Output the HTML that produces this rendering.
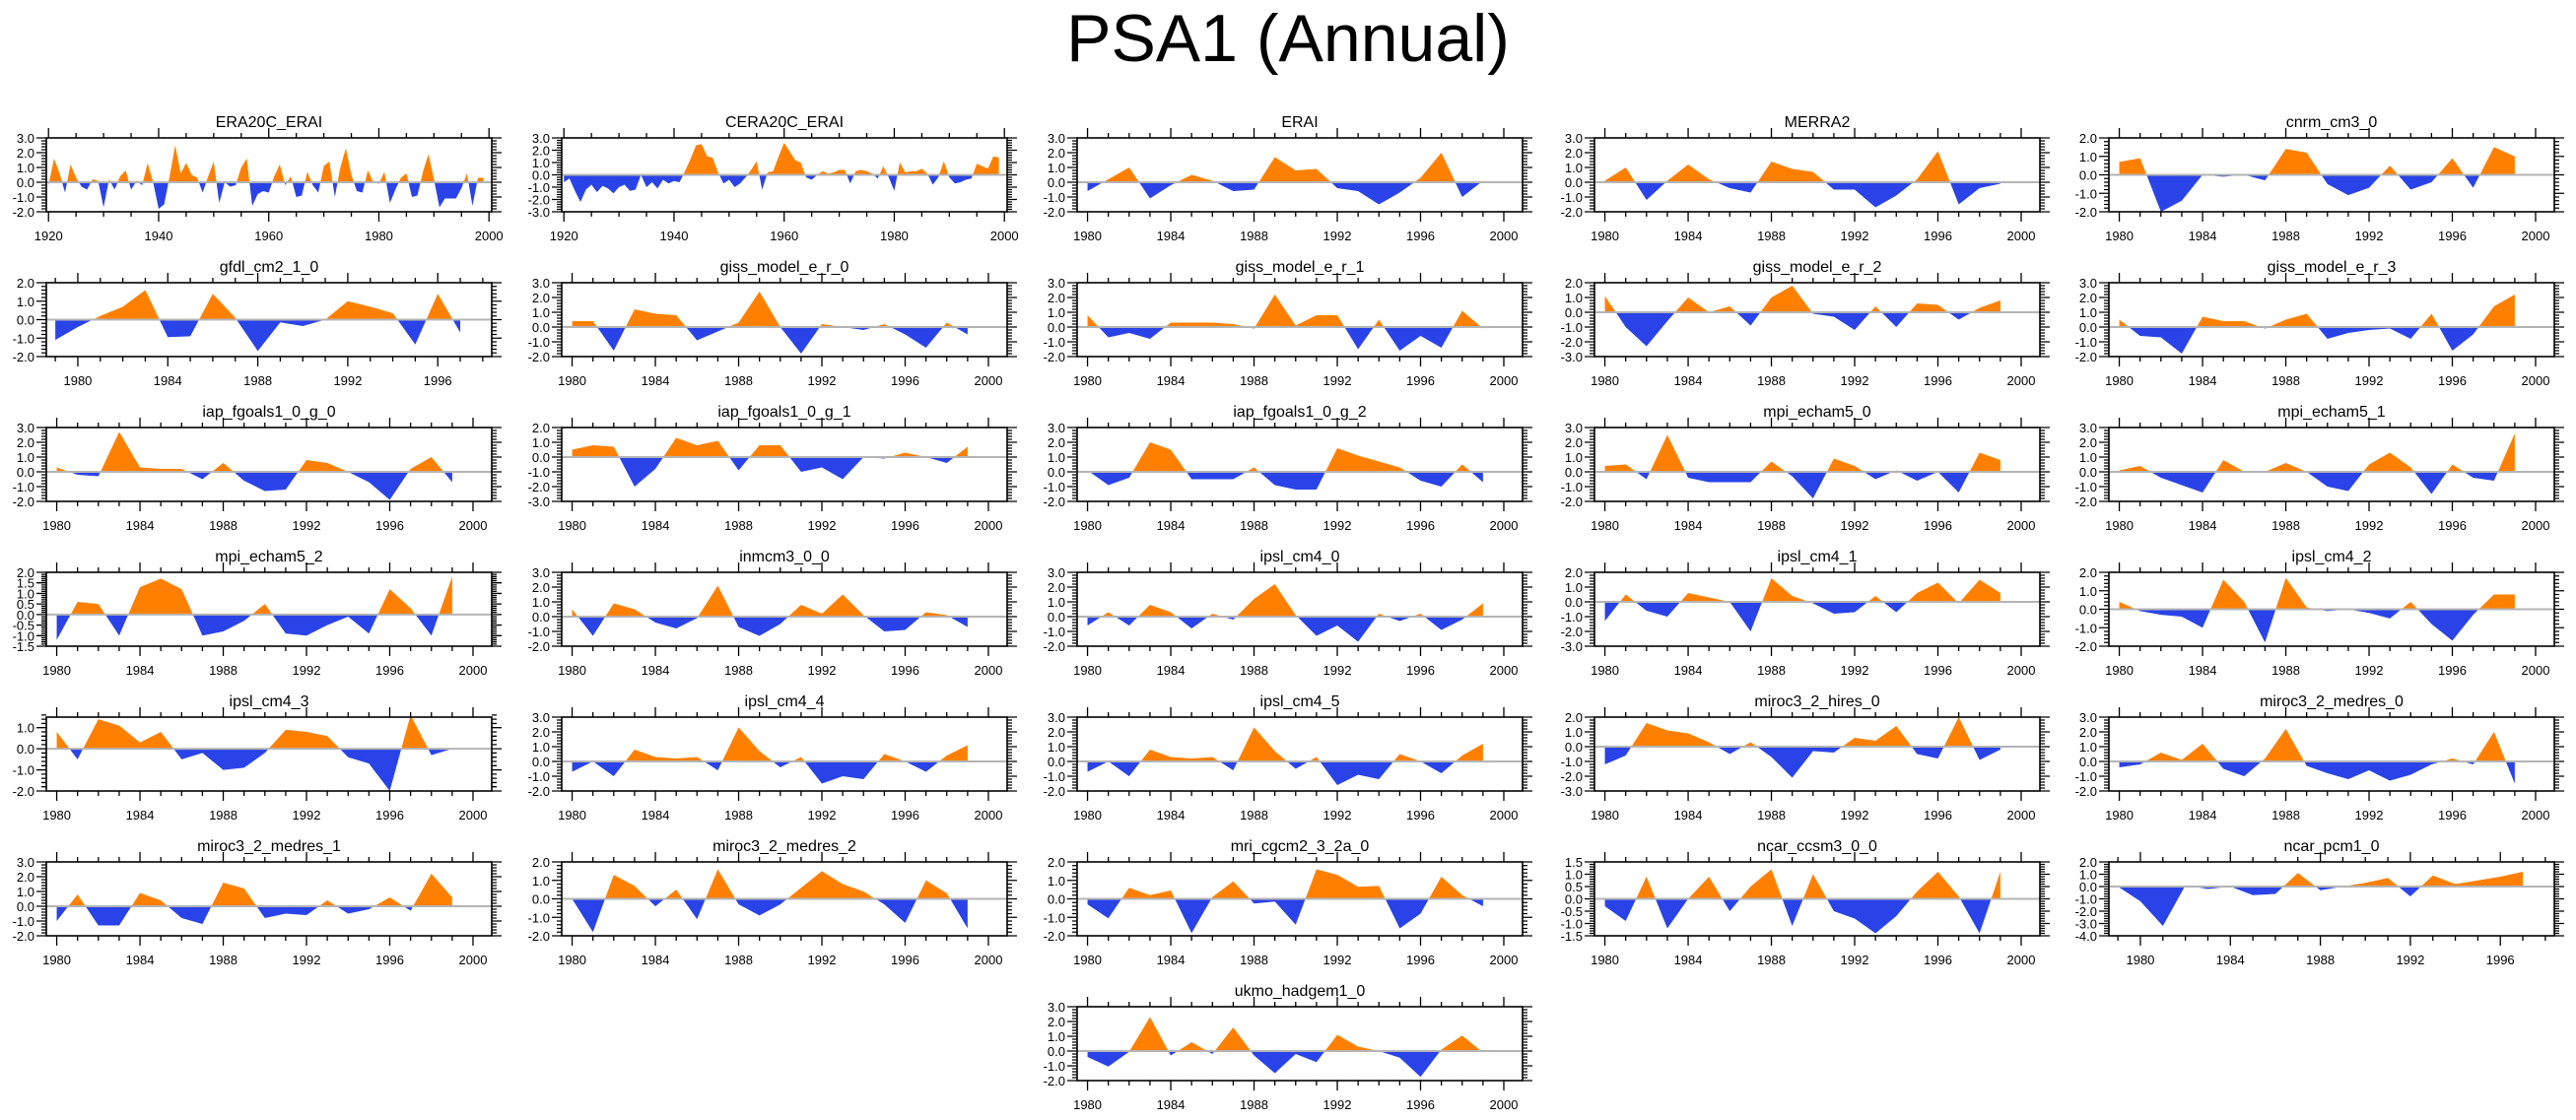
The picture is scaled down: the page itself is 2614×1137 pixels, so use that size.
<!DOCTYPE html>
<html><head><meta charset="utf-8"><title>PSA1 (Annual)</title>
<style>
html,body{margin:0;padding:0;background:#fff;}
body{width:2614px;height:1132px;overflow:hidden;font-family:"Liberation Sans",sans-serif;}
svg text{font-family:"Liberation Sans",sans-serif;}
</style></head>
<body>
<svg id="chart" width="2614" height="1132" viewBox="0 0 2614 1132" xmlns="http://www.w3.org/2000/svg">
<text x="1307" y="62" text-anchor="middle" font-size="68" fill="#000">PSA1 (Annual)</text>
</svg>
<script>
const panelNames = ["ERA20C_ERAI","CERA20C_ERAI","ERAI","MERRA2","cnrm_cm3_0",
"gfdl_cm2_1_0","giss_model_e_r_0","giss_model_e_r_1","giss_model_e_r_2","giss_model_e_r_3",
"iap_fgoals1_0_g_0","iap_fgoals1_0_g_1","iap_fgoals1_0_g_2","mpi_echam5_0","mpi_echam5_1",
"mpi_echam5_2","inmcm3_0_0","ipsl_cm4_0","ipsl_cm4_1","ipsl_cm4_2",
"ipsl_cm4_3","ipsl_cm4_4","ipsl_cm4_5","miroc3_2_hires_0","miroc3_2_medres_0",
"miroc3_2_medres_1","miroc3_2_medres_2","mri_cgcm2_3_2a_0","ncar_ccsm3_0_0","ncar_pcm1_0",
"ukmo_hadgem1_0"];
const startYears = [1920,1920,1980,1980,1980, 1979,1980,1980,1980,1980, 1980,1980,1980,1980,1980,
1980,1980,1980,1980,1980, 1980,1980,1980,1980,1980, 1980,1980,1980,1980,1979, 1980];
const yMin = [-2,-3,-2,-2,-2, -2,-2,-2,-3,-2, -2,-3,-2,-2,-2, -1.5,-2,-2,-3,-2, -2,-2,-2,-3,-2, -2,-2,-2,-1.5,-4, -2];
const yMax = [3,3,3,3,2, 2,3,3,2,3, 3,2,3,3,3, 2,3,3,2,2, 1.5,3,3,2,3, 3,2,2,1.5,2, 3];
const yStep = [1,1,1,1,1, 1,1,1,1,1, 1,1,1,1,1, 0.5,1,1,1,1, 1,1,1,1,1, 1,1,1,0.5,1, 1];
const s0 = [-0.2,1.6,0.6,-0.7,1.2,0.3,-0.3,-0.5,0.2,0.1,-1.7,0.2,-0.5,0.4,0.8,-0.5,0.1,-0.2,1.3,0.0,
-1.8,-1.5,0.4,2.5,0.6,1.3,0.5,0.3,-0.7,0.4,1.4,-1.4,0.0,-0.3,-0.2,1.0,1.6,-1.6,-0.8,-0.6,
-0.7,0.4,1.2,-0.2,0.4,-1.0,-0.9,0.7,-0.2,-0.7,1.1,1.4,-1.0,1.0,2.3,0.5,-0.6,-0.7,0.8,0.0,
-0.1,0.7,-1.4,-0.5,0.3,0.6,-1.0,-0.9,0.7,1.9,0.2,-1.7,-1.1,-1.1,-1.1,-0.4,0.6,-1.6,0.3,0.3];
const s1 = [-0.6,-0.3,-1.3,-2.2,-1.2,-0.8,-1.4,-0.9,-1.1,-1.5,-1.0,-0.8,-1.3,-1.2,0.0,-1.0,-0.6,-1.1,-0.4,-0.7,
-0.5,-0.6,0.3,1.3,2.4,2.5,1.5,1.4,0.2,-0.7,-0.4,-1.0,-0.7,-0.2,0.4,1.1,-1.2,0.2,0.3,1.5,
2.6,1.9,1.2,1.0,-0.2,-0.4,0.0,0.3,0.1,0.2,0.4,0.4,-0.7,0.3,0.4,0.3,0.1,-0.3,0.7,-0.2,
-1.3,1.0,0.2,0.3,0.3,0.5,0.1,-0.8,-0.2,1.1,-0.2,-0.7,-0.6,-0.4,-0.3,0.9,0.7,0.5,1.5,1.4];
const s2 = [-0.6,0.2,1.0,-1.1,-0.2,0.5,0.1,-0.6,-0.5,1.7,0.8,0.9,-0.4,-0.6,-1.5,-0.7,0.3,2.0,-1.0,0.1];
const s3 = [0.1,1.0,-1.2,0.1,1.2,0.2,-0.4,-0.7,1.4,0.9,0.7,-0.5,-0.5,-1.7,-0.9,0.2,2.1,-1.5,-0.4,-0.1];
const s4 = [0.7,0.9,-2.0,-1.4,0.0,-0.1,0.0,-0.3,1.4,1.2,-0.5,-1.1,-0.7,0.5,-0.8,-0.4,0.9,-0.7,1.5,1.0];
const s5 = [-1.1,-0.4,0.2,0.7,1.6,-0.95,-0.9,1.4,0.1,-1.7,-0.15,-0.35,0.0,1.0,0.7,0.35,-1.35,1.4,-0.7];
const s6 = [0.4,0.4,-1.6,1.2,0.9,0.8,-0.9,-0.3,0.3,2.4,0.0,-1.8,0.2,0.0,-0.2,0.2,-0.5,-1.4,0.3,-0.5];
const s7 = [0.8,-0.7,-0.4,-0.8,0.3,0.3,0.3,0.2,-0.1,2.2,0.1,0.8,0.8,-1.5,0.5,-1.6,-0.6,-1.4,1.1,-0.1];
const s8 = [1.1,-1.0,-2.3,-0.6,1.0,0.0,0.4,-0.9,1.0,1.8,-0.1,-0.3,-1.2,0.4,-1.0,0.6,0.5,-0.5,0.3,0.8];
const s9 = [0.5,-0.6,-0.7,-1.8,0.7,0.4,0.4,-0.1,0.5,0.9,-0.8,-0.4,-0.2,-0.1,-0.8,0.9,-1.6,-0.5,1.4,2.2];
const s10 = [0.3,-0.2,-0.3,2.7,0.3,0.2,0.2,-0.5,0.6,-0.6,-1.3,-1.2,0.8,0.6,0.0,-0.7,-1.9,0.2,1.0,-0.7];
const s11 = [0.5,0.8,0.7,-2.0,-0.8,1.3,0.8,1.1,-0.9,0.8,0.8,-1.0,-0.7,-1.5,0.0,-0.1,0.3,0.0,-0.4,0.7];
const s12 = [0.1,-0.9,-0.4,2.0,1.5,-0.5,-0.5,-0.5,0.3,-0.9,-1.2,-1.2,1.6,1.1,0.7,0.3,-0.6,-1.0,0.5,-0.7];
const s13 = [0.4,0.5,-0.5,2.5,-0.4,-0.7,-0.7,-0.7,0.7,-0.3,-1.8,0.9,0.4,-0.5,0.1,-0.6,0.0,-1.4,1.3,0.8];
const s14 = [0.1,0.4,-0.4,-0.9,-1.4,0.8,0.0,0.0,0.6,0.0,-1.0,-1.3,0.5,1.3,0.3,-1.5,0.5,-0.4,-0.6,2.6];
const s15 = [-1.2,0.6,0.5,-1.0,1.3,1.7,1.2,-1.0,-0.8,-0.3,0.5,-0.9,-1.0,-0.5,-0.1,-0.9,1.2,0.3,-1.0,1.8];
const s16 = [0.5,-1.3,0.9,0.5,-0.4,-0.8,-0.1,2.1,-0.7,-1.3,-0.5,0.8,0.2,1.5,0.1,-1.0,-0.9,0.3,0.1,-0.7];
const s17 = [-0.6,0.3,-0.6,0.8,0.3,-0.8,0.2,-0.2,1.2,2.2,0.1,-1.3,-0.6,-1.7,0.2,-0.3,0.2,-0.9,-0.2,0.9];
const s18 = [-1.3,0.5,-0.6,-1.0,0.6,0.3,0.0,-2.0,1.6,0.4,-0.1,-0.8,-0.7,0.4,-0.7,0.6,1.3,-0.1,1.5,0.6];
const s19 = [0.4,-0.1,-0.3,-0.4,-1.0,1.6,0.4,-1.8,1.7,0.1,-0.1,0.0,-0.2,-0.5,0.4,-0.8,-1.7,-0.3,0.8,0.8];
const s20 = [0.8,-0.5,1.4,1.1,0.3,0.8,-0.5,-0.2,-1.0,-0.9,-0.2,0.9,0.8,0.6,-0.4,-0.7,-2.0,1.6,-0.3,0.0];
const s21 = [-0.7,0.0,-1.0,0.8,0.3,0.2,0.3,-0.6,2.3,0.7,-0.4,0.3,-1.5,-1.0,-1.2,0.5,0.0,-0.7,0.4,1.1];
const s22 = [-0.7,0.0,-1.0,0.8,0.3,0.2,0.3,-0.6,2.3,0.7,-0.5,0.3,-1.6,-0.9,-1.2,0.5,0.0,-0.8,0.4,1.2];
const s23 = [-1.2,-0.6,1.6,1.1,0.9,0.3,-0.5,0.3,-0.7,-2.1,-0.3,-0.4,0.6,0.4,1.4,-0.5,-0.8,2.0,-0.9,-0.2];
const s24 = [-0.4,-0.2,0.6,0.1,1.2,-0.5,-1.0,0.2,2.2,-0.3,-0.8,-1.2,-0.6,-1.3,-0.9,-0.2,0.2,-0.2,2.0,-1.5];
const s25 = [-1.0,0.8,-1.3,-1.3,0.9,0.4,-0.8,-1.2,1.6,1.2,-0.8,-0.5,-0.6,0.4,-0.5,-0.2,0.6,-0.3,2.2,0.6];
const s26 = [0.0,-1.8,1.3,0.7,-0.4,0.5,-1.1,1.6,-0.3,-0.9,-0.3,0.6,1.5,0.8,0.4,-0.3,-1.3,1.0,0.3,-1.6];
const s27 = [-0.3,-1.05,0.6,0.2,0.45,-1.85,0.1,0.95,-0.25,-0.15,-1.4,1.6,1.3,0.65,0.7,-1.6,-0.8,1.2,0.2,-0.4];
const s28 = [-0.3,-0.9,0.9,-1.2,0.0,0.9,-0.5,0.5,1.2,-1.1,1.0,-0.5,-0.8,-1.4,-0.7,0.3,1.1,0.1,-1.4,1.1];
const s29 = [0.0,-1.2,-3.2,0.1,-0.2,0.0,-0.7,-0.6,1.1,-0.3,0.0,0.3,0.7,-0.8,0.9,0.2,0.5,0.8,1.2];
const s30 = [-0.4,-1.05,-0.05,2.3,-0.3,0.6,-0.2,1.6,-0.3,-1.5,-0.2,-0.75,1.1,0.3,0.0,-0.45,-1.75,0.1,1.05,-0.1];
const seriesValues = [s0,s1,s2,s3,s4,s5,s6,s7,s8,s9,s10,s11,s12,s13,s14,s15,s16,s17,s18,s19,s20,s21,s22,s23,s24,s25,s26,s27,s28,s29,s30];

(function(){
  const NS = "http://www.w3.org/2000/svg";
  const svg = document.getElementById("chart");
  const colLeft = [47,570,1093,1618,2140];
  const W = 452, H = 75, TOP0 = 140, PITCH = 147;
  function mk(tag, attrs, parent){
    const e = document.createElementNS(NS, tag);
    for (const k in attrs) e.setAttribute(k, attrs[k]);
    (parent||svg).appendChild(e);
    return e;
  }
  function fmt(v){ return (Math.abs(v)<1e-9?0:v).toFixed(1); }

  panelNames.forEach(function(name, i){
    let row = Math.floor(i/5), col = i%5;
    if (i === 30) { row = 6; col = 2; }
    const L = colLeft[col], T = TOP0 + row*PITCH, B = T + H, R = L + W;
    const vals = seriesValues[i];
    const sy = startYears[i];
    const long = sy < 1950;
    const shifted = sy === 1979;
    const xmin = long ? 1919.6 : (shifted ? 1978.6 : 1979.5);
    const xmax = long ? 2000.5 : (shifted ? 1998.4 : 2000.9);
    const ymn = yMin[i], ymx = yMax[i], st = yStep[i];
    const xs = function(yr){ return L + (yr - xmin)/(xmax - xmin)*W; };
    const ys = function(v){ return T + (ymx - v)/(ymx - ymn)*H; };

    const g = mk("g", {});
    
    

    const title = mk("text", {x: L + W/2, y: T - 11, "text-anchor":"middle", "font-size":"16", fill:"#000"}, g);
    title.textContent = name;
    
    

    const y0 = ys(0);
    const cpA = mk("clipPath", {id:"ca"+i}, g);
    mk("rect", {x:L, y:T, width:W, height:Math.max(0,y0-T)}, cpA);
    const cpB = mk("clipPath", {id:"cb"+i}, g);
    mk("rect", {x:L, y:y0, width:W, height:Math.max(0,B-y0)}, cpB);

    let pts = xs(sy).toFixed(2)+","+y0.toFixed(2)+" ";
    vals.forEach(function(v, k){ pts += xs(sy+k).toFixed(2)+","+ys(v).toFixed(2)+" "; });
    pts += xs(sy+vals.length-1).toFixed(2)+","+y0.toFixed(2);

    const pos = mk("polygon", {points:pts, fill:"#ff8000", "clip-path":"url(#ca"+i+")"}, g);
    
    
    const neg = mk("polygon", {points:pts, fill:"#2a43e8", "clip-path":"url(#cb"+i+")"}, g);
    
    

    const zl = mk("line", {x1:L, x2:R, y1:y0, y2:y0, stroke:"#b4b4b4", "stroke-width":"2"}, g);
    
    

    const fr = mk("rect", {x:L, y:T, width:W, height:H, fill:"none", stroke:"#000", "stroke-width":"1.6"}, g);
    
    

    let tk = "";
    const minor = st/5;
    const nMin = Math.round((ymx-ymn)/minor);
    for (let k=0;k<=nMin;k++){
      const v = ymn + k*minor, y = ys(v);
      const major = (k % 5) === 0;
      const len = major ? 10 : 5;
      tk += "M"+L+","+y.toFixed(2)+"h"+(-len)+"M"+R+","+y.toFixed(2)+"h"+len;
      if (major){
        const lb = mk("text", {x:L-12, y:(y+5).toFixed(2), "text-anchor":"end", "font-size":"13", fill:"#000"}, g);
        lb.textContent = fmt(v);
        
        
      }
    }
    const majorStep = long ? 20 : 4;
    const minorStep = long ? 5 : 1;
    const firstYr = Math.ceil(xmin/minorStep)*minorStep;
    for (let yr = firstYr; yr <= xmax; yr += minorStep){
      const x = xs(yr).toFixed(2);
      const major = (yr % majorStep) === 0;
      const len = major ? 10 : 5;
      tk += "M"+x+","+T+"v"+(-len)+"M"+x+","+B+"v"+len;
      if (major){
        const lb = mk("text", {x:x, y:B+29, "text-anchor":"middle", "font-size":"13", fill:"#000"}, g);
        lb.textContent = String(yr);
        
        
      }
    }
    const tp = mk("path", {d:tk, stroke:"#000", "stroke-width":"1.3", fill:"none"}, g);
    
    
  });
})();
</script>
</body></html>
